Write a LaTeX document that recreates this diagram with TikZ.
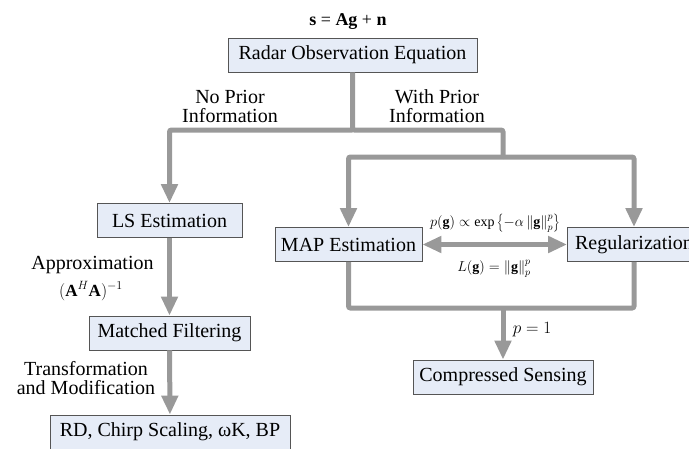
\documentclass[tikz,border=0pt]{standalone}
\usepackage{fontspec,xcolor,tikz}
\setmainfont{Liberation Serif}
\usetikzlibrary{arrows.meta}
\definecolor{flowgrey}{HTML}{999999}
\definecolor{boxfill}{HTML}{E6ECF7}
\definecolor{boxrim}{HTML}{555555}
\newcommand{\txt}{\fontsize{20}{19}\selectfont}
\newcommand{\mth}{\fontsize{14}{16}\selectfont}
\newcommand{\mthb}{\fontsize{17}{19}\selectfont}
\tikzset{stagebox/.style={draw=boxrim,line width=0.8pt,fill=boxfill,font=\txt,
    inner xsep=5pt,inner ysep=0pt,minimum height=34pt},
  branch/.style={flowgrey,line width=5pt,rounded corners=2pt},
  flow/.style={branch,-{Triangle[length=19pt,width=16pt]}},
  twoway/.style={branch,{Triangle[length=19pt,width=16pt]}-{Triangle[length=19pt,width=16pt]}},
  caption/.style={inner sep=0,align=center,font=\txt}}

\begin{document}
\begin{tikzpicture}[x=1pt,y=-1pt]
\useasboundingbox (0,0) rectangle (689,448);
% stages
\node[stagebox,minimum width=249pt] (radar) at (352.5,55) {Radar Observation Equation};
\node[stagebox,minimum width=145pt] (ls) at (169.5,220.5) {LS Estimation};
\node[stagebox,minimum width=161pt] (mf) at (169.5,333) {Matched Filtering};
\node[stagebox,minimum width=240pt] (rd) at (170,432) {RD, Chirp Scaling, ωK, BP};
\node[stagebox,minimum width=147pt] (map) at (348.5,244.5) {MAP Estimation};
\node[stagebox,minimum width=133pt] (reg) at (634,244.5) {Regularization};
\node[stagebox,minimum width=180pt] (cs) at (503,377) {Compressed Sensing};
% texts
\node[caption,font=\fontsize{18}{20}\selectfont] (model) at (348,22) {\textbf{s} = \textbf{Ag} + \textbf{n}};
\node[caption] (noprior) at (230,106) {No Prior\\Information};
\node[caption] (prior) at (437,106) {With Prior\\Information};
\node[caption] (approx) at (92.5,265) {Approximation};
\node[caption,font=\mthb] (inverse) at (91,291) {$(\mathbf{A}^{H}\mathbf{A})^{-1}$};
\node[caption] (transform) at (86,378) {Transformation\\and Modification};
\node[caption,font=\mth] (prob) at (495,223) {$p(\mathbf{g})\propto\exp\left\{-\alpha\left\|\mathbf{g}\right\|_p^p\right\}$};
\node[caption,font=\mth] (loss) at (494,269) {$L(\mathbf{g})=\left\|\mathbf{g}\right\|_p^p$};
\node[caption,font=\mthb] (pone) at (532,330) {$p=1$};
% junctions
\coordinate (split) at (352.5,130);
\coordinate (fork) at (503,157);
\coordinate (merge) at (503,308);
% connectors
\draw[branch] (radar.south) -- (split) -| (fork);
\draw[flow] (split) -| (ls.north);
\draw[flow] (fork) -| (map.north);
\draw[flow] (fork) -| (reg.north);
\draw[flow] (ls) -- (mf);
\draw[flow] (mf) -- (rd);
\draw[twoway] (map) -- (reg);
\draw[branch] (map.south) |- (merge) -| (reg.south);
\draw[flow] (merge) -- (cs.north);
\end{tikzpicture}
\end{document}
